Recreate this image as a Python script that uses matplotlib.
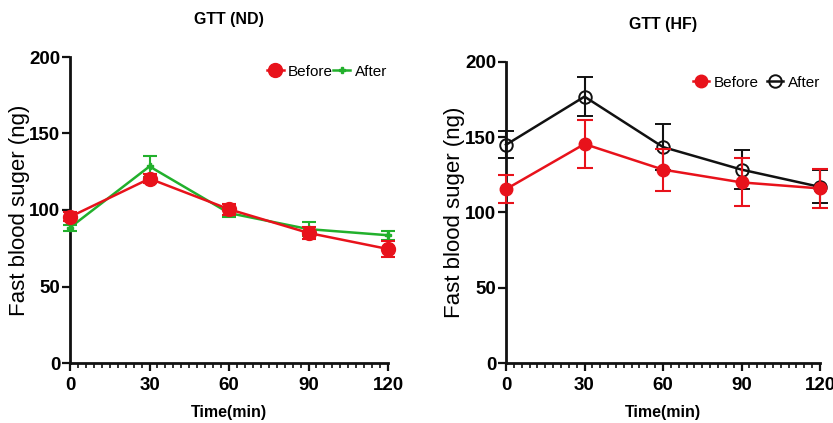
import matplotlib
matplotlib.use("Agg")
import matplotlib.pyplot as plt
from matplotlib.ticker import MultipleLocator
from matplotlib.lines import Line2D

# Time points (min)
time_min = [0, 30, 60, 90, 120]

# GTT, normal diet
nd_before = [95.5, 120.5, 100.5, 85.0, 74.5]
nd_before_err = [3.0, 3.0, 3.5, 4.0, 5.0]
nd_after = [88.5, 128.5, 98.0, 87.5, 83.5]
nd_after_err = [2.0, 7.0, 2.5, 4.5, 3.0]

# GTT, high-fat diet
hf_before = [115.5, 145.5, 128.5, 120.0, 116.0]
hf_before_err = [9.5, 16.0, 14.0, 16.0, 13.0]
hf_after = [145.0, 177.0, 143.5, 128.5, 117.0]
hf_after_err = [9.0, 13.0, 15.5, 13.0, 11.0]

y_ticks = [0, 50, 100, 150, 200]
x_ticks = [0, 30, 60, 90, 120]

RED = "#e8121b"
GREEN = "#22b02c"
BLACK = "#111111"
SANS = "Liberation Sans"

fig = plt.figure(figsize=(8.33, 4.23), dpi=100)
fig.patch.set_facecolor("white")

ax1 = fig.add_axes([70 / 833, 60 / 423, 318 / 833, 306 / 423])
ax2 = fig.add_axes([506 / 833, 60 / 423, 314 / 833, 301 / 423])


def style_axes(ax, title, ylab_x):
    ax.set_xlim(0, 120)
    ax.set_ylim(0, 200)
    for s in ("top", "right"):
        ax.spines[s].set_visible(False)
    for s in ("left", "bottom"):
        ax.spines[s].set_linewidth(2.0)
        ax.spines[s].set_color(BLACK)
    ax.set_xticks(x_ticks)
    ax.set_yticks(y_ticks)
    ax.xaxis.set_minor_locator(MultipleLocator(3))
    ax.tick_params(axis="both", which="major", length=6, width=1.6,
                   color=BLACK, pad=4)
    ax.tick_params(axis="x", which="minor", length=3.5, width=1.2, color=BLACK)
    ax.tick_params(axis="y", which="major", pad=1)
    for lab in ax.get_xticklabels() + ax.get_yticklabels():
        lab.set_fontfamily(SANS)
        lab.set_fontweight("bold")
        lab.set_fontsize(13.5)
    ax.set_xlabel("Time(min)", fontfamily=SANS, fontweight="bold",
                  fontsize=11.5, labelpad=8)
    ax.set_ylabel("Fast blood suger (ng)", fontfamily=SANS, fontsize=16)
    ax.yaxis.set_label_coords(ylab_x, 0.5)
    ax.set_title(title, fontfamily=SANS, fontweight="bold", fontsize=11.5,
                 pad=24)


# ND panel
ax1.errorbar(time_min, nd_after, yerr=nd_after_err, color=GREEN, lw=1.8,
             marker="P", ms=5, capsize=5, capthick=1.5, elinewidth=1.5,
             clip_on=False, zorder=3)
ax1.errorbar(time_min, nd_before, yerr=nd_before_err, color=RED, lw=1.8,
             marker="o", ms=10, capsize=5, capthick=1.5, elinewidth=1.5,
             clip_on=False, zorder=4)
style_axes(ax1, "GTT (ND)", -0.126)
nd_handles = [Line2D([], [], color=RED, lw=1.8, marker="o", ms=10),
              Line2D([], [], color=GREEN, lw=1.8, marker="P", ms=5)]
ax1.legend(nd_handles, ["Before", "After"], loc="upper right", ncol=2,
           frameon=False, handlelength=1.1, handletextpad=0.3,
           columnspacing=0.0, bbox_to_anchor=(1.04, 1.02),
           prop={"family": SANS, "size": 11})

# HF panel
ax2.errorbar(time_min, hf_after, yerr=hf_after_err, color=BLACK, lw=1.8,
             marker="o", ms=9, mfc="none", mec=BLACK, mew=1.4, capsize=6,
             capthick=1.5, elinewidth=1.5, clip_on=False, zorder=3)
ax2.errorbar(time_min, hf_before, yerr=hf_before_err, color=RED, lw=1.8,
             marker="o", ms=9, capsize=6, capthick=1.5, elinewidth=1.5,
             clip_on=False, zorder=4)
style_axes(ax2, "GTT (HF)", -0.13)
hf_handles = [Line2D([], [], color=RED, lw=1.8, marker="o", ms=9),
              Line2D([], [], color=BLACK, lw=1.8, marker="o", ms=9,
                     mfc="none", mec=BLACK, mew=1.4)]
ax2.legend(hf_handles, ["Before", "After"], loc="upper right", ncol=2,
           frameon=False, handlelength=1.1, handletextpad=0.3,
           columnspacing=0.5, bbox_to_anchor=(1.045, 1.0),
           prop={"family": SANS, "size": 11})

fig.savefig("out.png", dpi=100, facecolor="white")
